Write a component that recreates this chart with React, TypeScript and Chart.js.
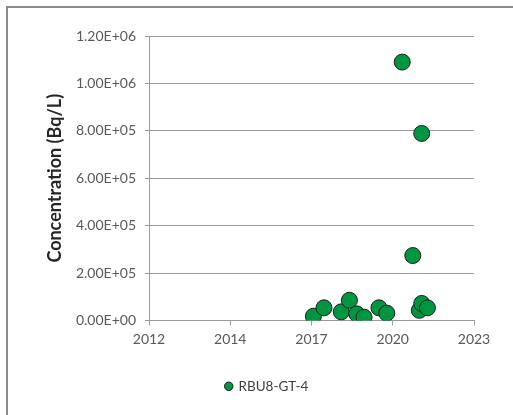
import React, { useEffect, useRef } from "react";
import { Chart, registerables } from "chart.js";

Chart.register(...registerables);

// Sample dates (decimal years) and concentrations (Bq/L) for RBU8-GT-4
const seriesName = "RBU8-GT-4";
const sampleYears = [
  2018.07, 2018.46, 2019.10, 2019.40, 2019.67, 2019.94, 2020.49, 2020.78,
  2021.35, 2021.74, 2022.07, 2021.98, 2022.07, 2022.28,
];
const concentrations = [
  18000, 53500, 36600, 85500, 28000, 14000, 53500, 31000,
  1090000, 274000, 789000, 43000, 72000, 53500,
];
const xTickLabels = ["2012", "2014", "2017", "2020", "2023"];
const xTickValues = [2012, 2015, 2018, 2021, 2024];
const yTicks = [0, 200000, 400000, 600000, 800000, 1000000, 1200000];

function sci(v: number): string {
  if (v === 0) return "0.00E+00";
  const e = Math.floor(Math.log10(Math.abs(v)));
  const m = v / Math.pow(10, e);
  const es = (e < 0 ? "-" : "+") + String(Math.abs(e)).padStart(2, "0");
  return m.toFixed(2) + "E" + es;
}

export default function App() {
  const ref = useRef<HTMLCanvasElement | null>(null);
  useEffect(() => {
    if (!ref.current) return;
    const gridColor = "#9a9a9a";
    const tickColor = "#595959";
    const font = "Lato, 'Open Sans', sans-serif";
    const chart = new Chart(ref.current, {
      type: "scatter",
      data: {
        datasets: [
          {
            label: seriesName,
            data: sampleYears.map((x, i) => ({ x, y: concentrations[i] })),
            backgroundColor: "#00963f",
            borderColor: "#1e1e1e",
            borderWidth: 1,
            pointRadius: 8,
            pointHoverRadius: 8,
            pointStyle: "circle",
          },
        ],
      },
      options: {
        animation: false,
        responsive: false,
        maintainAspectRatio: false,
        layout: { padding: { left: 60, right: 39, top: 36, bottom: 12 } },
        plugins: {
          tooltip: { enabled: false },
          legend: {
            display: true,
            position: "bottom",
            labels: {
              usePointStyle: true,
              boxWidth: 6,
              boxHeight: 6,
              padding: 10,
              color: "#404040",
              font: { family: font, size: 13.5 },
            },
          },
        },
        scales: {
          x: {
            type: "linear",
            min: 2012,
            max: 2024,
            afterBuildTicks: (scale: any) => {
              scale.ticks = xTickValues.map((v) => ({ value: v }));
            },
            afterFit: (scale: any) => {
              scale.height = 49;
            },
            ticks: {
              color: tickColor,
              font: { family: font, size: 14 },
              padding: 6,
              maxRotation: 0,
              callback: (v: any) => {
                const i = xTickValues.indexOf(Number(v));
                return i >= 0 ? xTickLabels[i] : "";
              },
            },
            grid: {
              drawOnChartArea: false,
              drawTicks: true,
              tickLength: 5,
              color: gridColor,
            },
            border: { display: true, color: gridColor, width: 1 },
          },
          y: {
            type: "linear",
            min: 0,
            max: 1200000,
            afterBuildTicks: (scale: any) => {
              scale.ticks = yTicks.map((v) => ({ value: v }));
            },
            afterFit: (scale: any) => {
              scale.width = 89;
            },
            ticks: {
              color: tickColor,
              font: { family: font, size: 14 },
              padding: 9,
              callback: (v: any) => sci(Number(v)),
            },
            grid: {
              color: gridColor,
              tickLength: 4,
              drawTicks: true,
            },
            border: { display: true, color: gridColor, width: 1 },
            title: {
              display: true,
              text: "Concentration (Bq/L)",
              color: "#262626",
              font: { family: font, size: 18, weight: "bold" },
              padding: { top: -16, bottom: 0 },
            },
          },
        },
      },
    });
    return () => chart.destroy();
  }, []);
  return (
    <div style={{ position: "fixed", left: 0, top: 0, width: 513, height: 415, background: "#fff", overflow: "hidden" }}>
      <div
        style={{
          position: "absolute",
          left: 6,
          top: 6,
          width: 530,
          height: 430,
          borderLeft: "2px solid #8c8c8c",
          borderTop: "2px solid #8c8c8c",
        }}
      />
      <canvas ref={ref} width={513} height={415} style={{ position: "absolute", left: 0, top: 0, width: 513, height: 415 }} />
    </div>
  );
}
